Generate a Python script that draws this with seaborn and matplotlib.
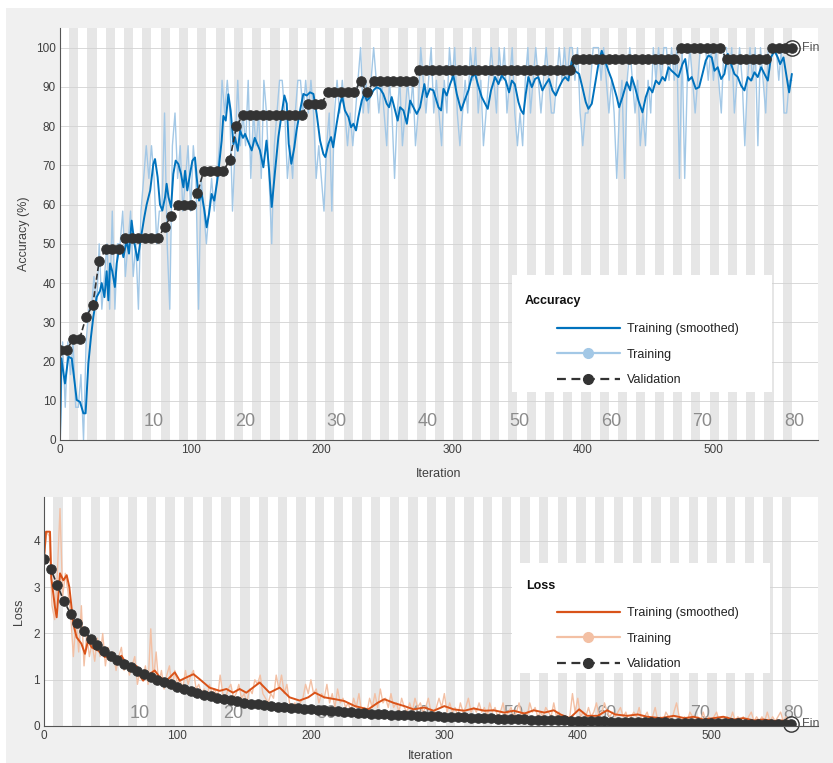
import numpy as np
import matplotlib
matplotlib.use("Agg")
import matplotlib.pyplot as plt
from matplotlib.lines import Line2D
from matplotlib.patches import Rectangle
import seaborn as sns

ITERS_PER_EPOCH = 7
N_EPOCHS = 80
VAL_EVERY = 5
RAW_EVERY = 2
VAL_SIZE = 35
BATCH = 12
epoch_labels = [10, 20, 30, 40, 50, 60, 70, 80]

# raw training accuracy: correct images out of 12, one value every 2 iterations
train_correct = [
    0, 3, 1, 3, 2, 3, 1, 1, 2, 0,
    3, 4, 4, 5, 4, 6, 4, 5, 6, 4,
    7, 4, 6, 6, 7, 5, 6, 7, 5, 6,
    4, 7, 8, 9, 8, 9, 8, 6, 7, 7,
    10, 6, 4, 9, 10, 8, 9, 7, 8, 9,
    7, 9, 8, 4, 8, 7, 6, 7, 8, 7,
    8, 9, 11, 10, 11, 10, 7, 9, 11, 9,
    10, 9, 11, 8, 10, 9, 10, 8, 11, 10,
    8, 6, 9, 10, 11, 11, 10, 8, 9, 8,
    10, 11, 11, 10, 11, 10, 11, 10, 8, 9,
    8, 7, 9, 10, 7, 10, 11, 10, 11, 10,
    9, 10, 9, 10, 11, 12, 10, 11, 10, 11,
    12, 11, 10, 11, 10, 9, 11, 10, 8, 10,
    11, 9, 10, 11, 10, 11, 9, 10, 12, 11,
    10, 11, 12, 10, 11, 10, 9, 11, 10, 12,
    11, 12, 10, 9, 10, 11, 10, 12, 11, 12,
    10, 11, 9, 10, 11, 12, 11, 10, 12, 11,
    12, 10, 11, 12, 10, 9, 10, 9, 11, 12,
    10, 11, 12, 11, 10, 11, 12, 11, 10, 10,
    11, 12, 11, 12, 11, 12, 12, 11, 12, 10,
    9, 10, 10, 11, 12, 12, 12, 11, 12, 11,
    10, 11, 10, 8, 10, 11, 8, 11, 12, 11,
    10, 11, 9, 10, 9, 11, 10, 12, 11, 12,
    11, 12, 12, 11, 12, 11, 12, 8, 12, 8,
    11, 12, 11, 10, 11, 12, 12, 12, 11, 12,
    11, 12, 11, 10, 12, 12, 11, 12, 10, 11,
    12, 11, 9, 11, 12, 11, 12, 9, 12, 11,
    10, 12, 12, 12, 12, 11, 12, 10, 10, 11,
    11,
]

# smoothed training accuracy (iteration, %)
acc_smooth_iter = [
    0, 1, 3.8, 6.4, 9, 12.8, 15.3, 17.9, 19.6, 21.7, 23.7, 25.5, 28, 30.6, 31.9,
    34, 35.7, 37, 38.3, 40, 42, 43.4, 45, 47, 48.5, 51, 52.8, 54.8, 57, 59.4,
    62, 64.5, 66.3, 69, 71.4, 72.7, 74.7, 76.5, 78.3, 80.4, 81.6, 83, 85, 86.7,
    88.5, 90.6, 92.6, 94.4, 95.7, 97.4, 99.5, 101.3, 103.3, 104.6, 106.4, 108.4,
    110.5, 112.2, 114, 116, 118, 120, 121, 123.7, 125, 126.8, 128.8, 130.6,
    132.7, 134, 136, 137.8, 140,
    141.6, 146.7, 149, 153, 155.6, 158, 160, 162, 164.6, 167.1, 169.6, 171.7,
    173.5, 175, 177, 179.3, 181, 183.7, 186.2, 188.8, 191.3, 193.9, 196.4, 199,
    201.5, 203, 205.4, 207.4, 209, 211.7, 214.3, 216, 218, 220.7, 222.7, 224.5,
    226.5, 228.3, 230.9, 232.9, 234.7, 237.3, 239.8, 242.3, 244.9, 247.4, 250,
    251.8, 253.8, 256.4, 258.4, 260.2, 262.8, 265.4, 267.9, 270.4, 273, 275.5,
    278.8, 280.6, 283, 285.7, 289.6,
    291.6, 293.4, 295.9, 298.5, 301, 303.6, 306.9, 310, 312.5, 315, 317.6, 320,
    322.7, 325.3, 327.3, 329.8, 332.9, 335.5, 338, 341, 343.6, 345.7, 348,
    350.8, 352.8, 354.6, 356.4, 358.4, 361, 363.5, 366, 369.1, 371.7, 374.2,
    376.8, 379.3, 381.9, 384.4, 386.5, 389, 391.6, 394, 397.2, 399.7, 402.3,
    404.3, 406.9, 409.4, 412, 414.5, 417, 419.6, 422, 426, 427.8, 430.4, 433.7,
    436.3,
    437.5, 440, 442.6, 445.7, 448.2, 450.8, 453.3, 455.9, 458.4, 461, 463,
    465.6, 468, 470.7, 473.2, 476.3, 478.4, 480.9, 483.4, 486.5, 489, 491.6,
    494.1, 496.2, 498.7, 500.8, 503.3, 505.9, 508.4, 511, 513.5, 516, 518.6,
    521.2, 523.7, 526.3, 528.8, 531.4, 533.9, 536.5, 539, 541.6, 544, 546.7,
    549.2, 551, 553.6, 556, 557.9, 560,
]
acc_smooth_val = [
    0, 20.8, 14.4, 21.2, 20.8, 10.2, 9.7, 6.8, 6.8, 19.5, 26.3, 31.4, 36.4, 38, 40,
    36.4, 43, 35.6, 45, 43, 39, 45, 48.3, 49, 46.6, 50.8, 47.5, 55.9, 50, 45.8,
    51.7, 56.8, 60, 63.6, 70.3, 71.6, 67, 60, 58.5, 61.9, 65.3, 61.9, 59.3, 67.8,
    71.2, 70.3, 67.8, 64.4, 68.6, 63.6, 67.8, 71.2, 72, 67, 61, 62.7,
    58.5, 54.2, 57.6, 62.7, 61, 65.3, 67.8, 76.3, 82.6, 81.4, 88.1, 83.9,
    75.4, 77, 73.7, 78.8, 77,
    78, 73.8, 77, 73.8, 69.5, 76.3, 68.7, 59.4, 68.7, 77.2, 83.1, 87.8,
    85.7, 75.5, 70.4, 74.6, 78.9, 84, 88.2, 87.8, 88.6, 88.2, 83.1, 76.3,
    72.9, 72.1, 75.5, 77.2, 74.6, 80.6, 85.7, 87.4, 84, 82.3, 79.7, 80.6,
    78.9, 82.3, 86.5, 88.2, 86.5, 87.4, 89.1, 89.9, 89.5, 88.2, 85.7,
    84.8, 87.4, 84, 81.4, 84.8, 84, 80.6, 86.5, 84.8, 83.1, 84.8,
    90.7, 87.4, 89.5, 89.1, 84.8,
    84, 89.5, 87.8, 90.7, 92.9, 88.2, 84, 86.9, 89.1, 92.5, 93.3, 90.3,
    87.4, 85.7, 84.4, 89.1, 92.5, 90.7, 92.9, 91.6, 88.6, 91.6, 90.7,
    86.1, 84, 83.1, 88.2, 92.5, 89.9, 92, 92.5, 89.1, 90.7, 92,
    89.1, 87.8, 89.9, 91.6, 92.5, 91.6, 96.7, 94.1, 93.3, 89.9, 86.1,
    84.4, 85.7, 90.7, 95.8, 99.2, 96.7, 94.1, 92, 87.4, 84.8, 87.4, 91.2,
    89.1,
    92.5, 89.9, 86.5, 83.5, 87.4, 89.9, 88.6, 91.6, 90.7, 92.5, 91.6,
    95, 94.1, 93.3, 92.5, 95.8, 97.1, 91.6, 92.5, 89.5, 89.9, 93.3,
    96.7, 98, 97.5, 94.1, 95, 92, 93.3, 98.4, 95.8, 93.3, 92.5,
    90.3, 89.1, 92.5, 91.6, 93.7, 92.5, 95, 93.3, 91.6, 97.5, 99.2,
    97.5, 95.8, 97.5, 92.5, 88.6, 93.3,
]

# validation accuracy: correct images out of 35, one value every 5 iterations
val_correct = [
    8, 8, 9, 9, 11, 12, 16, 17, 17, 17,
    18, 18, 18, 18, 18, 18, 19, 20, 21, 21,
    21, 22, 24, 24, 24, 24, 25, 28, 29, 29,
    29, 29, 29, 29, 29, 29, 29, 29, 30, 30,
    30, 31, 31, 31, 31, 31, 32, 31, 32, 32,
    32, 32, 32, 32, 32, 33, 33, 33, 33, 33,
    33, 33, 33, 33, 33, 33, 33, 33, 33, 33,
    33, 33, 33, 33, 33, 33, 33, 33, 33, 34,
    34, 34, 34, 34, 34, 34, 34, 34, 34, 34,
    34, 34, 34, 34, 34, 35, 35, 35, 35, 35,
    35, 35, 34, 34, 34, 34, 34, 34, 34, 35,
    35, 35, 35,
]

# raw training loss, one value every 2 iterations
train_loss = [
    3.6, 4.2, 4.1, 2.6, 2.3, 3.3, 4.7, 2.8, 3.3, 2.9,
    2.4, 1.5, 2.3, 1.6, 2.6, 1.3, 2.0, 1.5, 1.8, 1.4,
    1.9, 1.5, 2.0, 1.3, 1.7, 1.4, 1.6, 1.2, 1.5, 1.7,
    1.2, 1.4, 1.1, 1.3, 1.5, 0.9, 1.2, 1.0, 1.3, 0.9,
    2.1, 1.0, 1.6, 0.9, 1.2, 0.8, 1.1, 1.3, 0.8, 1.2,
    0.9, 1.0, 0.8, 1.2, 0.9, 1.1, 1.2, 0.8, 0.9, 0.7,
    0.8, 0.6, 0.9, 0.7, 0.8, 0.6, 1.1, 0.7, 0.6, 0.8,
    0.9, 0.6, 0.7, 0.9, 0.6, 0.7, 0.5, 0.8, 0.7, 1.0,
    0.9, 1.1, 0.7, 0.6, 0.5, 0.7, 0.6, 1.1, 0.8, 1.1,
    0.7, 0.9, 0.5, 0.4, 0.5, 0.3, 0.5, 0.6, 0.9, 0.7,
    1.0, 0.7, 0.8, 0.5, 0.7, 0.6, 0.9, 0.5, 0.7, 0.4,
    0.8, 0.5, 0.6, 0.4, 0.5, 0.3, 0.6, 0.4, 0.7, 0.3,
    0.4, 0.3, 0.6, 0.4, 0.7, 0.4, 0.8, 0.5, 0.6, 0.4,
    0.7, 0.4, 0.5, 0.3, 0.6, 0.4, 0.3, 0.5, 0.3, 0.6,
    0.4, 0.5, 0.3, 0.4, 0.6, 0.3, 0.3, 0.4, 0.6, 0.4,
    0.7, 0.3, 0.5, 0.3, 0.4, 0.2, 0.5, 0.3, 0.4, 0.6,
    0.3, 0.4, 0.3, 0.5, 0.3, 0.4, 0.2, 0.5, 0.3, 0.4,
    0.2, 0.3, 0.5, 0.2, 0.3, 0.4, 0.2, 0.3, 0.5, 0.2,
    0.3, 0.2, 0.5, 0.3, 0.4, 0.2, 0.3, 0.2, 0.4, 0.3,
    0.2, 0.5, 0.2, 0.3, 0.1, 0.2, 0.1, 0.2, 0.7, 0.3,
    0.6, 0.2, 0.3, 0.2, 0.4, 0.2, 0.3, 0.5, 0.2, 0.3,
    0.5, 0.3, 0.2, 0.3, 0.2, 0.3, 0.4, 0.2, 0.3, 0.1,
    0.2, 0.3, 0.2, 0.4, 0.1, 0.2, 0.3, 0.1, 0.2, 0.4,
    0.1, 0.2, 0.1, 0.3, 0.2, 0.1, 0.3, 0.5, 0.2, 0.1,
    0.2, 0.1, 0.3, 0.2, 0.1, 0.2, 0.1, 0.3, 0.1, 0.2,
    0.1, 0.2, 0.3, 0.1, 0.2, 0.1, 0.2, 0.1, 0.3, 0.1,
    0.2, 0.1, 0.2, 0.1, 0.2, 0.3, 0.1, 0.2, 0.1, 0.2,
    0.1, 0.3, 0.1, 0.2, 0.1, 0.2, 0.3, 0.1, 0.2, 0.1,
    0.1,
]

# smoothed training loss
loss_smooth_iter = [
    0, 1.5, 4.5, 5.5, 8.2, 9.5, 12, 14.5, 17, 19, 22, 24.4, 28, 30.7, 33, 35.7,
    40.6, 45.6, 50.6, 54.4, 58, 61.8, 66.8, 69.3, 71.8, 74.3, 77.3, 83, 86.8,
    91.8, 98, 101.7, 106.7, 112, 116.7, 124, 131.7, 136.7, 141.6, 146.6, 151.6,
    161.6, 169, 176.6, 184, 191.5, 198, 203, 210, 218, 225, 233, 243, 250, 255,
    262, 270, 277, 285, 292, 300, 307, 315, 322, 330, 337, 345, 352, 360, 367,
    375, 382, 387, 394, 401, 407, 415, 422, 428, 437, 445, 452, 462, 472, 480,
    487, 494, 502, 509, 517, 524, 532, 539, 547, 553, 558,
]
loss_smooth_val = [
    3.62, 4.2, 4.2, 3.2, 2.57, 2.35, 3.3, 3.15, 3.26, 3.0, 2.2, 1.92, 1.78, 1.56,
    1.85, 1.7, 1.63, 1.49, 1.56, 1.41, 1.52, 1.34, 1.23, 1.30, 1.09, 0.98, 1.09,
    1.20, 1.05, 0.98, 1.16, 0.98, 1.05, 1.12, 1.01, 0.83, 0.76, 0.80, 0.72, 0.80,
    0.72, 0.94, 0.72, 0.83, 0.62, 0.55, 0.62, 0.72, 0.62, 0.58, 0.54, 0.43, 0.36,
    0.50, 0.58, 0.50, 0.43, 0.36, 0.40, 0.33, 0.43, 0.36, 0.33, 0.38, 0.33, 0.34,
    0.29, 0.33, 0.27, 0.34, 0.29, 0.34, 0.25, 0.17, 0.36, 0.22, 0.22, 0.34, 0.25,
    0.22, 0.25, 0.20, 0.17, 0.22, 0.17, 0.20, 0.14, 0.17, 0.20, 0.14, 0.17, 0.12,
    0.14, 0.11, 0.12, 0.07,
]

# validation loss, one value every 5 iterations
val_loss = [
    3.62, 3.40, 3.04, 2.70, 2.42, 2.22, 2.06, 1.89, 1.75, 1.63,
    1.52, 1.43, 1.35, 1.27, 1.19, 1.12, 1.06, 1.00, 0.95, 0.90,
    0.85, 0.80, 0.76, 0.72, 0.68, 0.645, 0.61, 0.58, 0.555, 0.53,
    0.505, 0.485, 0.465, 0.445, 0.425, 0.41, 0.40, 0.39, 0.38, 0.37,
    0.36, 0.35, 0.34, 0.33, 0.32, 0.31, 0.30, 0.29, 0.28, 0.27,
    0.262, 0.255, 0.248, 0.242, 0.236, 0.23, 0.224, 0.218, 0.212, 0.206,
    0.20, 0.195, 0.19, 0.185, 0.18, 0.175, 0.17, 0.165, 0.16, 0.155,
    0.15, 0.147, 0.143, 0.14, 0.135, 0.13, 0.127, 0.123, 0.12, 0.117,
    0.113, 0.11, 0.107, 0.104, 0.10, 0.097, 0.094, 0.091, 0.088, 0.085,
    0.083, 0.08, 0.078, 0.076, 0.074, 0.072, 0.07, 0.068, 0.066, 0.064,
    0.062, 0.06, 0.058, 0.057, 0.055, 0.054, 0.052, 0.051, 0.05, 0.049,
    0.048, 0.047, 0.046,
]

BLUE = "#0072BD"
LIGHT_BLUE = "#a3c8e6"
ORANGE = "#D95319"
LIGHT_ORANGE = "#f3c0a4"
DARK = "#333333"
TXT = "#404040"

sns.set_theme(style="white")
plt.rcParams["font.family"] = ["Liberation Sans", "DejaVu Sans"]

raw_iter = np.arange(len(train_correct)) * RAW_EVERY
val_iter = np.arange(len(val_correct)) * VAL_EVERY
train_acc = np.array(train_correct) / BATCH * 100
val_acc = np.array(val_correct) / VAL_SIZE * 100

fig = plt.figure(figsize=(8.33, 7.63), dpi=100, facecolor="white")
fig.patches.append(Rectangle((6 / 833, 0), 1, 1 - 8 / 763, transform=fig.transFigure,
                             facecolor="#f0f0f0", edgecolor="none", zorder=-10))
ax1 = fig.add_axes([60 / 833, 1 - 440 / 763, 758 / 833, 412 / 763])
ax2 = fig.add_axes([44 / 833, 1 - 726 / 763, 774 / 833, 229 / 763])


def style_axes(ax, ymax, yticks, label_y):
    ax.set_facecolor("white")
    for e in range(2, N_EPOCHS + 1, 2):
        ax.axvspan((e - 1) * ITERS_PER_EPOCH, e * ITERS_PER_EPOCH,
                   color="#e6e6e6", lw=0, zorder=0.2)
    for e in epoch_labels:
        ax.text(e * ITERS_PER_EPOCH + 1.5, label_y, str(e), ha="center", va="center",
                fontsize=13, color="#8c8c8c", zorder=0.8)
    ax.set_xlim(0, 580)
    ax.set_ylim(0, ymax)
    ax.set_yticks(yticks)
    ax.set_xticks([0, 100, 200, 300, 400, 500])
    ax.set_axisbelow(True)
    ax.grid(axis="y", color="#d2d2d2", lw=0.6)
    ax.grid(axis="x", visible=False)
    for s in ["top", "right"]:
        ax.spines[s].set_visible(False)
    for s in ["left", "bottom"]:
        ax.spines[s].set_color("#555555")
        ax.spines[s].set_linewidth(0.8)
        ax.spines[s].set_zorder(5)
    ax.tick_params(direction="in", length=3.5, width=0.7, color="#555555",
                   labelsize=8.5, labelcolor=TXT, pad=3)


def add_legend(ax, title, smooth_c, raw_c, rect, title_xy, anchor):
    ax.add_patch(Rectangle((rect[0], rect[1]), rect[2] - rect[0], rect[3] - rect[1],
                           transform=ax.transAxes, facecolor="white",
                           edgecolor="none", zorder=6))
    ax.text(title_xy[0], title_xy[1], title, transform=ax.transAxes, fontsize=9,
            fontweight="bold", color="#111111", va="center", zorder=7)
    handles = [
        Line2D([], [], color=smooth_c, lw=1.6),
        Line2D([], [], color=raw_c, lw=1.6, marker="o", ms=7),
        Line2D([], [], color=DARK, lw=1.6, ls="--", marker="o", ms=7,
               dashes=(4, 2.5)),
    ]
    leg = ax.legend(handles, ["Training (smoothed)", "Training", "Validation"],
                    loc="upper left", bbox_to_anchor=anchor, frameon=False,
                    fontsize=9, handlelength=5.0, handletextpad=0.55,
                    labelspacing=1.1, borderpad=0, borderaxespad=0)
    leg.set_zorder(8)
    for t in leg.get_texts():
        t.set_color("#222222")


# accuracy panel
style_axes(ax1, 105, np.arange(0, 101, 10), 4.6)
sns.lineplot(x=raw_iter, y=train_acc, ax=ax1, color=LIGHT_BLUE, lw=1.0, zorder=2)
sns.lineplot(x=acc_smooth_iter, y=acc_smooth_val, ax=ax1, color=BLUE, lw=1.4, zorder=3)
sns.lineplot(x=val_iter, y=val_acc, ax=ax1, color=DARK, lw=1.2, linestyle="--",
             marker="o", markersize=6.8, markeredgecolor=DARK, markerfacecolor=DARK,
             zorder=4)
ax1.plot(val_iter[-1], val_acc[-1], "o", ms=11, mfc="none", mec=DARK, mew=1.0,
         zorder=5, clip_on=False)
ax1.text(val_iter[-1] + 8, val_acc[-1], "Fin", fontsize=9, color="#555555",
         va="center", ha="left", clip_on=False)
ax1.set_xlabel("Iteration", fontsize=9, color=TXT)
ax1.set_ylabel("Accuracy (%)", fontsize=9, color=TXT)
ax1.xaxis.set_label_coords(0.5, -0.068)
ax1.yaxis.set_label_coords(-0.04, 0.5)
add_legend(ax1, "Accuracy", BLUE, LIGHT_BLUE,
           (0.596, 0.1165, 0.939, 0.4005), (0.6135, 0.337), (0.656, 0.284))

# loss panel
style_axes(ax2, 4.95, [0, 1, 2, 3, 4], 0.28)
sns.lineplot(x=raw_iter, y=train_loss, ax=ax2, color=LIGHT_ORANGE, lw=1.0, zorder=2)
sns.lineplot(x=loss_smooth_iter, y=loss_smooth_val, ax=ax2, color=ORANGE, lw=1.4,
             zorder=3)
sns.lineplot(x=val_iter, y=val_loss, ax=ax2, color=DARK, lw=1.2, linestyle="--",
             marker="o", markersize=6.8, markeredgecolor=DARK, markerfacecolor=DARK,
             zorder=4)
ax2.plot(val_iter[-1], val_loss[-1], "o", ms=11, mfc="none", mec=DARK, mew=1.0,
         zorder=5, clip_on=False)
ax2.text(val_iter[-1] + 8, val_loss[-1], "Fin", fontsize=9, color="#555555",
         va="center", ha="left", clip_on=False)
ax2.set_xlabel("Iteration", fontsize=9, color=TXT)
ax2.set_ylabel("Loss", fontsize=9, color=TXT)
ax2.xaxis.set_label_coords(0.5, -0.105)
ax2.yaxis.set_label_coords(-0.025, 0.5)
add_legend(ax2, "Loss", ORANGE, LIGHT_ORANGE,
           (0.605, 0.231, 0.938, 0.712), (0.6225, 0.611), (0.663, 0.52))

fig.savefig("out.png", dpi=100, facecolor=fig.get_facecolor())
